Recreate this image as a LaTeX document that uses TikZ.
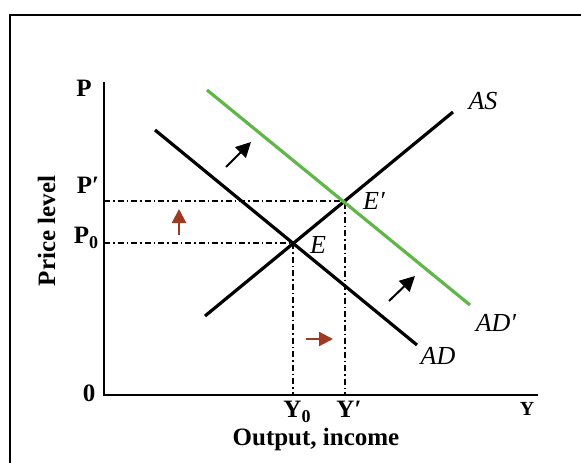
\documentclass[tikz,border=0pt]{standalone}
\usepackage{fontspec}
\setmainfont{Liberation Serif}
\usetikzlibrary{arrows.meta}
\definecolor{adgreen}{RGB}{96,182,72}
\definecolor{shiftred}{RGB}{158,58,34}
\newcommand{\lowzero}{\raisebox{-5pt}{\fontsize{18}{18}\selectfont 0}}
\begin{document}
\begin{tikzpicture}[x=1pt,y=-1pt,
  frameline/.style={line width=2.4pt},
  axisline/.style={line width=2pt},
  curve/.style={line width=3.2pt},
  guide/.style={line width=1.5pt, dash pattern=on 6pt off 3pt on 1.5pt off 3pt},
  shiftarrow/.style={line width=2pt, -{Triangle[length=15pt,width=15pt]}},
  smallarrow/.style={line width=2.2pt, shiftred, -{Triangle[length=14pt,width=14pt]}},
  axlabel/.style={font=\fontsize{25}{25}\selectfont\bfseries, inner sep=0pt, anchor=base},
  curvelabel/.style={font=\fontsize{26}{26}\selectfont\itshape, inner sep=0pt}]
\useasboundingbox (0,0) rectangle (581,463);
% frame
\draw[frameline] (10,463) -- (10,15) -- (581,15);
% axes
\coordinate (ytop) at (104,82);
\coordinate (origin) at (104,395);
\coordinate (xend) at (538,395);
\draw[axisline] (ytop) -- (origin) -- (xend);
% key points
\coordinate (E) at (293,243);
\coordinate (Ep) at (345,201);
\coordinate (P0ax) at (104,243);
\coordinate (Ppax) at (104,201);
\coordinate (Y0ax) at (293,395);
\coordinate (Ypax) at (345,395);
% guides
\draw[guide] (Ppax) -- (Ep) -- (Ypax);
\draw[guide] (P0ax) -- (E) -- (Y0ax);
% curves
\coordinate (ASa) at (205,316); \coordinate (ASb) at (453,112);
\coordinate (ADa) at (155,130); \coordinate (ADb) at (417,345);
\coordinate (ADpa) at (207,90); \coordinate (ADpb) at (470,305);
\draw[curve] (ASa) -- (ASb);
\draw[curve] (ADa) -- (ADb);
\draw[curve, adgreen] (ADpa) -- (ADpb);
% shift arrows
\coordinate (k1a) at (226,167); \coordinate (k1b) at (251,142);
\coordinate (k2a) at (389,301); \coordinate (k2b) at (415,276);
\draw[shiftarrow] (k1a) -- (k1b);
\draw[shiftarrow] (k2a) -- (k2b);
\coordinate (r1a) at (179,235); \coordinate (r1b) at (179,209);
\coordinate (r2a) at (306,339); \coordinate (r2b) at (333,339);
\draw[smallarrow] (r1a) -- (r1b);
\draw[smallarrow] (r2a) -- (r2b);
% labels
\node[axlabel] (lP) at (84,96) {P};
\node[axlabel] (lPp) at (88,193) {P′};
\node[axlabel] (lP0) at (86,243) {P\lowzero};
\node[axlabel] (l0) at (89,401) {0};
\node[axlabel] (lY0) at (297,417) {Y\lowzero};
\node[axlabel] (lYp) at (349,417) {Y′};
\node[axlabel, font=\fontsize{20}{20}\selectfont\bfseries] (lY) at (527,415) {Y};
\node[axlabel] (lx) at (316,445) {Output, income};
\node[axlabel, rotate=90] (ly) at (55,231) {Price level};
\node[curvelabel] (lAS) at (483,101) {AS};
\node[curvelabel] (lEp) at (374,201) {E′};
\node[curvelabel] (lE) at (318,245) {E};
\node[curvelabel] (lAD) at (438,356) {AD};
\node[curvelabel] (lADp) at (496,323) {AD′};
\end{tikzpicture}
\end{document}
